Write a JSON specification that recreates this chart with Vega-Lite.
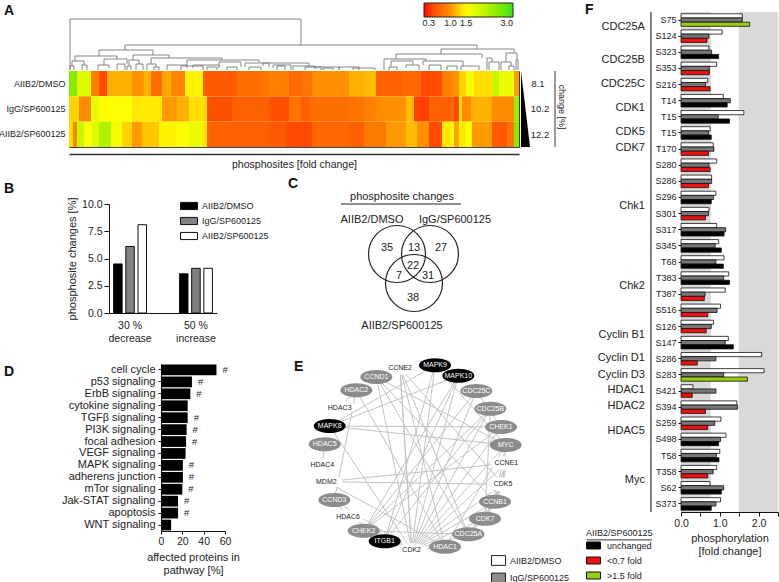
{
"$schema":"https://vega.github.io/schema/vega-lite/v6.json",
"padding":{"left":-3,"top":2,"right":0,"bottom":0},
"background":"white",
"bounds":"flush",
"spacing":612,
"config":{"view":{"stroke":null},"font":"Liberation Sans","title":{"fontSize":14,"fontWeight":"bold","anchor":"start","frame":"group","color":"#111"},"axis":{"domainColor":"#111","tickColor":"#111","labelColor":"#222","titleColor":"#222","titleFontWeight":"normal","grid":false},"legend":{"labelColor":"#222","titleColor":"#222","titleFontWeight":"normal"},"text":{"color":"#222"}},
"datasets":{
"nodes":[
{"id":"CCNE2","x":333,"y":80,"g":"AIIB2/DMSO"},{"id":"MAPK9","x":438,"y":73,"g":"AIIB2/SP600125"},{"id":"MAPK10","x":508,"y":104,"g":"AIIB2/SP600125"},{"id":"CDC25C","x":562,"y":150,"g":"IgG/SP600125"},{"id":"CDC25B","x":604,"y":203,"g":"IgG/SP600125"},{"id":"CHEK1","x":636,"y":258,"g":"IgG/SP600125"},{"id":"MYC","x":650,"y":312,"g":"IgG/SP600125"},{"id":"CCNE1","x":652,"y":367,"g":"AIIB2/DMSO"},{"id":"CDK5","x":642,"y":430,"g":"AIIB2/DMSO"},{"id":"CCNB1","x":618,"y":482,"g":"IgG/SP600125"},{"id":"CDK7","x":588,"y":533,"g":"IgG/SP600125"},{"id":"CDC25A","x":538,"y":580,"g":"IgG/SP600125"},{"id":"HDAC1","x":468,"y":617,"g":"IgG/SP600125"},{"id":"CDK2","x":368,"y":627,"g":"AIIB2/DMSO"},{"id":"ITGB1","x":287,"y":601,"g":"AIIB2/SP600125"},{"id":"CHEK2","x":224,"y":569,"g":"IgG/SP600125"},{"id":"HDAC6","x":177,"y":527,"g":"AIIB2/DMSO"},{"id":"CCND3","x":136,"y":477,"g":"IgG/SP600125"},{"id":"MDM2","x":112,"y":422,"g":"AIIB2/DMSO"},{"id":"HDAC4","x":100,"y":372,"g":"AIIB2/DMSO"},{"id":"HDAC5","x":107,"y":310,"g":"IgG/SP600125"},{"id":"MAPK8","x":122,"y":255,"g":"AIIB2/SP600125"},{"id":"HDAC3","x":152,"y":200,"g":"AIIB2/DMSO"},{"id":"HDAC2","x":202,"y":148,"g":"IgG/SP600125"},{"id":"CCND1","x":262,"y":108,"g":"IgG/SP600125"}],
"edges":[
{"s":"CDK2","t":"CCNE2"},{"s":"CDK2","t":"MAPK9"},{"s":"CDK2","t":"MAPK10"},{"s":"CDK2","t":"CDC25C"},{"s":"CDK2","t":"CDC25B"},{"s":"CDK2","t":"CHEK1"},{"s":"CDK2","t":"MYC"},{"s":"CDK2","t":"CCNE1"},{"s":"CDK2","t":"CDK5"},{"s":"CDK2","t":"CCNB1"},{"s":"CDK2","t":"CDK7"},{"s":"CDK2","t":"CDC25A"},{"s":"CDK2","t":"HDAC1"},{"s":"CDK2","t":"CCND1"},{"s":"CDK2","t":"CCND3"},{"s":"CDK2","t":"MAPK8"},{"s":"CDK2","t":"HDAC6"},{"s":"CDK2","t":"CHEK2"},
{"s":"MAPK8","t":"MYC"},{"s":"MAPK8","t":"MAPK9"},{"s":"MAPK8","t":"MAPK10"},{"s":"MAPK8","t":"CHEK1"},{"s":"MDM2","t":"CCNE1"},{"s":"MDM2","t":"CDK5"},{"s":"MDM2","t":"HDAC1"},
{"s":"HDAC2","t":"CCND3"},{"s":"HDAC2","t":"HDAC1"},{"s":"HDAC2","t":"HDAC3"},{"s":"HDAC5","t":"HDAC4"},{"s":"CCND1","t":"CDC25A"},{"s":"CCND1","t":"CCNB1"},{"s":"CCND1","t":"MYC"},
{"s":"CCNE2","t":"CDC25A"},{"s":"CCNE2","t":"HDAC1"},{"s":"CCNE2","t":"CDK5"},{"s":"CCNE2","t":"CDK2"},{"s":"MAPK9","t":"MYC"},{"s":"MAPK9","t":"ITGB1"},{"s":"MAPK10","t":"ITGB1"},{"s":"MAPK10","t":"CHEK2"},
{"s":"ITGB1","t":"CDC25B"},{"s":"CHEK2","t":"CDC25C"},{"s":"CHEK2","t":"CDC25B"},{"s":"CHEK2","t":"CDC25A"},{"s":"CHEK2","t":"CHEK1"},{"s":"HDAC6","t":"CCND3"},{"s":"MYC","t":"CCNB1"},{"s":"MYC","t":"CDK5"},{"s":"CCNE1","t":"CDK5"},{"s":"CCNE1","t":"CCNB1"},{"s":"CCNE1","t":"CDK7"},{"s":"CDK5","t":"CCNB1"},{"s":"CDK5","t":"CDK7"},{"s":"CDK5","t":"CDC25A"},{"s":"CCNB1","t":"CDK7"},{"s":"CCNB1","t":"CDC25A"},{"s":"CDK7","t":"CDC25A"},{"s":"CDC25B","t":"CDK7"},{"s":"CHEK1","t":"CDC25C"},{"s":"HDAC1","t":"MYC"}
]
},
"hconcat":[
{"bounds":"flush","spacing":352,"vconcat":[
 {"bounds":"flush","spacing":192,"vconcat":[
  {"bounds":"flush","spacing":1,"vconcat":[
   {"width":450,"height":58,
    "title":{"text":"A","dx":-65,"offset":-5.5},
    "data":{"values":[
{"a":1,"b":232,"h":51,"la":0,"lb":25},{"a":56,"b":408,"h":25,"la":20,"lb":21},{"a":30,"b":84,"h":20,"la":14,"lb":15},{"a":6,"b":48,"h":14,"la":9,"lb":11},{"a":3,"b":15,"h":9,"la":4,"lb":5},{"a":1,"b":5,"h":4,"la":0,"lb":0},{"a":13,"b":18,"h":5,"la":0,"lb":0},{"a":35,"b":58,"h":11,"la":5,"lb":6},{"a":29,"b":40,"h":5,"la":0,"lb":2},{"a":48,"b":56,"h":6,"la":0,"lb":0},
{"a":64,"b":100,"h":15,"la":10,"lb":12},{"a":60,"b":70,"h":10,"la":4,"lb":6},{"a":58,"b":62,"h":4,"la":0,"lb":0},{"a":67,"b":74,"h":6,"la":0,"lb":0},{"a":82,"b":153,"h":12,"la":6,"lb":10},{"a":78,"b":87,"h":6,"la":0,"lb":3},{"a":85,"b":90,"h":3,"la":0,"lb":0},{"a":98,"b":118,"h":5,"la":0,"lb":2},{"a":112,"b":134,"h":4,"la":0,"lb":0},{"a":118,"b":190,"h":10,"la":5,"lb":8},{"a":124,"b":150,"h":5,"la":2,"lb":2},{"a":138,"b":148,"h":3,"la":0,"lb":0},{"a":150,"b":172,"h":8,"la":3,"lb":3},{"a":158,"b":168,"h":3,"la":0,"lb":0},{"a":176,"b":200,"h":7,"la":3,"lb":3},{"a":180,"b":192,"h":3,"la":0,"lb":0},
{"a":194,"b":240,"h":7,"la":4,"lb":3},{"a":204,"b":222,"h":5,"la":2,"lb":0},{"a":208,"b":216,"h":4,"la":0,"lb":0},{"a":224,"b":246,"h":4,"la":0,"lb":2},{"a":236,"b":252,"h":3,"la":0,"lb":0},{"a":246,"b":270,"h":3,"la":1,"lb":1},{"a":254,"b":264,"h":2,"la":0,"lb":0},{"a":270,"b":290,"h":3,"la":0,"lb":0},{"a":284,"b":306,"h":2,"la":0,"lb":0},
{"a":372,"b":445,"h":21,"la":16,"lb":17},{"a":327,"b":413,"h":16,"la":11,"lb":12},{"a":315,"b":357,"h":11,"la":0,"lb":9},{"a":322,"b":344,"h":9,"la":3,"lb":5},{"a":320,"b":328,"h":3,"la":0,"lb":0},{"a":337,"b":350,"h":5,"la":2,"lb":0},{"a":354,"b":394,"h":9,"la":5,"lb":4},{"a":360,"b":372,"h":5,"la":0,"lb":0},{"a":378,"b":388,"h":4,"la":0,"lb":0},{"a":392,"b":410,"h":4,"la":0,"lb":0},
{"a":418,"b":423,"h":12,"la":0,"lb":8},{"a":420,"b":430,"h":8,"la":0,"lb":0},{"a":437,"b":448,"h":17,"la":8,"lb":10},{"a":432,"b":442,"h":8,"la":0,"lb":4},{"a":440,"b":445,"h":4,"la":0,"lb":0},{"a":447,"b":449,"h":10,"la":0,"lb":0}
]},
    "encoding":{"x":{"field":"a","type":"quantitative","scale":{"domain":[0,450],"nice":false},"axis":null},"y":{"field":"h","type":"quantitative","scale":{"domain":[0,58],"nice":false},"axis":null}},
    "layer":[
     {"mark":{"type":"rule","color":"#777","strokeWidth":0.9},"encoding":{"x2":{"field":"b"}}},
     {"mark":{"type":"rule","color":"#777","strokeWidth":0.9},"encoding":{"y2":{"field":"la"}}},
     {"mark":{"type":"rule","color":"#777","strokeWidth":0.9},"encoding":{"x":{"field":"b","type":"quantitative"},"y2":{"field":"lb"}}}
    ]},
   {"bounds":"flush","spacing":2,"hconcat":[
    {"width":450,"height":76,"view":{"stroke":"#444","strokeWidth":1},
     "data":{"values":[
{"r":"AIIB2/DMSO","s":0,"e":8,"v":2.5},{"r":"AIIB2/DMSO","s":8,"e":22,"v":1.8},{"r":"AIIB2/DMSO","s":22,"e":30,"v":0.85},{"r":"AIIB2/DMSO","s":30,"e":38,"v":0.45},{"r":"AIIB2/DMSO","s":38,"e":63,"v":1.15},{"r":"AIIB2/DMSO","s":63,"e":75,"v":1.0},{"r":"AIIB2/DMSO","s":75,"e":82,"v":1.15},{"r":"AIIB2/DMSO","s":82,"e":93,"v":0.7},{"r":"AIIB2/DMSO","s":93,"e":102,"v":1.1},{"r":"AIIB2/DMSO","s":102,"e":116,"v":0.9},{"r":"AIIB2/DMSO","s":116,"e":134,"v":1.45},{"r":"AIIB2/DMSO","s":134,"e":168,"v":0.55},{"r":"AIIB2/DMSO","s":168,"e":190,"v":0.7},{"r":"AIIB2/DMSO","s":190,"e":200,"v":0.75},{"r":"AIIB2/DMSO","s":200,"e":220,"v":0.85},{"r":"AIIB2/DMSO","s":220,"e":233,"v":0.65},{"r":"AIIB2/DMSO","s":233,"e":243,"v":0.75},{"r":"AIIB2/DMSO","s":243,"e":280,"v":1.0},{"r":"AIIB2/DMSO","s":280,"e":295,"v":1.15},{"r":"AIIB2/DMSO","s":295,"e":307,"v":1.2},{"r":"AIIB2/DMSO","s":307,"e":333,"v":0.6},{"r":"AIIB2/DMSO","s":333,"e":352,"v":0.65},{"r":"AIIB2/DMSO","s":352,"e":373,"v":0.45},{"r":"AIIB2/DMSO","s":373,"e":382,"v":0.85},{"r":"AIIB2/DMSO","s":382,"e":390,"v":1.0},{"r":"AIIB2/DMSO","s":390,"e":397,"v":1.3},{"r":"AIIB2/DMSO","s":397,"e":405,"v":1.55},{"r":"AIIB2/DMSO","s":405,"e":423,"v":1.35},{"r":"AIIB2/DMSO","s":423,"e":430,"v":2.0},{"r":"AIIB2/DMSO","s":430,"e":445,"v":1.7},{"r":"AIIB2/DMSO","s":445,"e":450,"v":1.05},
{"r":"IgG/SP600125","s":0,"e":10,"v":1.3},{"r":"IgG/SP600125","s":10,"e":22,"v":0.95},{"r":"IgG/SP600125","s":22,"e":30,"v":1.7},{"r":"IgG/SP600125","s":30,"e":63,"v":1.5},{"r":"IgG/SP600125","s":63,"e":93,"v":1.4},{"r":"IgG/SP600125","s":93,"e":108,"v":1.05},{"r":"IgG/SP600125","s":108,"e":120,"v":1.15},{"r":"IgG/SP600125","s":120,"e":138,"v":1.35},{"r":"IgG/SP600125","s":138,"e":163,"v":0.5},{"r":"IgG/SP600125","s":163,"e":200,"v":0.6},{"r":"IgG/SP600125","s":200,"e":220,"v":0.5},{"r":"IgG/SP600125","s":220,"e":232,"v":0.75},{"r":"IgG/SP600125","s":232,"e":240,"v":0.6},{"r":"IgG/SP600125","s":240,"e":280,"v":0.7},{"r":"IgG/SP600125","s":280,"e":295,"v":0.75},{"r":"IgG/SP600125","s":295,"e":307,"v":0.85},{"r":"IgG/SP600125","s":307,"e":315,"v":0.95},{"r":"IgG/SP600125","s":315,"e":337,"v":1.0},{"r":"IgG/SP600125","s":337,"e":345,"v":1.2},{"r":"IgG/SP600125","s":345,"e":360,"v":0.4},{"r":"IgG/SP600125","s":360,"e":385,"v":0.6},{"r":"IgG/SP600125","s":385,"e":390,"v":0.45},{"r":"IgG/SP600125","s":390,"e":393,"v":1.35},{"r":"IgG/SP600125","s":393,"e":402,"v":0.95},{"r":"IgG/SP600125","s":402,"e":423,"v":1.15},{"r":"IgG/SP600125","s":423,"e":445,"v":0.95},{"r":"IgG/SP600125","s":445,"e":450,"v":2.4},
{"r":"AIIB2/SP600125","s":0,"e":4,"v":1.35},{"r":"AIIB2/SP600125","s":4,"e":8,"v":0.9},{"r":"AIIB2/SP600125","s":8,"e":15,"v":2.0},{"r":"AIIB2/SP600125","s":15,"e":23,"v":1.5},{"r":"AIIB2/SP600125","s":23,"e":30,"v":1.8},{"r":"AIIB2/SP600125","s":30,"e":42,"v":2.2},{"r":"AIIB2/SP600125","s":42,"e":53,"v":1.6},{"r":"AIIB2/SP600125","s":53,"e":63,"v":1.3},{"r":"AIIB2/SP600125","s":63,"e":73,"v":1.05},{"r":"AIIB2/SP600125","s":73,"e":90,"v":1.25},{"r":"AIIB2/SP600125","s":90,"e":107,"v":1.45},{"r":"AIIB2/SP600125","s":107,"e":120,"v":1.55},{"r":"AIIB2/SP600125","s":120,"e":133,"v":1.7},{"r":"AIIB2/SP600125","s":133,"e":138,"v":1.4},{"r":"AIIB2/SP600125","s":138,"e":200,"v":0.6},{"r":"AIIB2/SP600125","s":200,"e":217,"v":0.55},{"r":"AIIB2/SP600125","s":217,"e":243,"v":0.45},{"r":"AIIB2/SP600125","s":243,"e":280,"v":0.65},{"r":"AIIB2/SP600125","s":280,"e":295,"v":0.6},{"r":"AIIB2/SP600125","s":295,"e":317,"v":0.8},{"r":"AIIB2/SP600125","s":317,"e":337,"v":1.05},{"r":"AIIB2/SP600125","s":337,"e":348,"v":1.2},{"r":"AIIB2/SP600125","s":348,"e":360,"v":1.0},{"r":"AIIB2/SP600125","s":360,"e":373,"v":0.45},{"r":"AIIB2/SP600125","s":373,"e":382,"v":1.4},{"r":"AIIB2/SP600125","s":382,"e":385,"v":1.55},{"r":"AIIB2/SP600125","s":385,"e":390,"v":1.1},{"r":"AIIB2/SP600125","s":390,"e":397,"v":1.4},{"r":"AIIB2/SP600125","s":397,"e":403,"v":1.5},{"r":"AIIB2/SP600125","s":403,"e":423,"v":1.05},{"r":"AIIB2/SP600125","s":423,"e":438,"v":0.55},{"r":"AIIB2/SP600125","s":438,"e":445,"v":0.75},{"r":"AIIB2/SP600125","s":445,"e":450,"v":2.5}
]},
     "mark":{"type":"rect"},
     "encoding":{
      "x":{"field":"s","type":"quantitative","scale":{"domain":[0,450],"nice":false},"axis":{"title":"phosphosites  [fold change]","titleFontSize":10.5,"titlePadding":5,"labels":false,"ticks":false,"offset":7,"domainWidth":1.5,"domainColor":"#333"}},
      "x2":{"field":"e"},
      "y":{"field":"r","type":"nominal","sort":["AIIB2/DMSO","IgG/SP600125","AIIB2/SP600125"],"title":null,"axis":{"domain":false,"ticks":false,"labelFontSize":9,"labelPadding":4,"labelLimit":200}},
      "color":{"field":"v","type":"quantitative","scale":{"domain":[0.15,0.3,1,1.5,3],"range":["#ff0000","#ff2a00","#ff9000","#ffff00","#30e020"]},
       "legend":{"title":null,"orient":"none","legendX":355,"legendY":-9,"direction":"horizontal","gradientLength":89,"gradientThickness":14,"gradientStrokeColor":"#222","gradientStrokeWidth":1,"values":[0.3,1,1.5,3],"format":".1f","labelFontSize":9,"tickCount":4}}
     }},
    {"width":50,"height":76,
     "layer":[
      {"data":{"values":[{"pos":0,"w":0},{"pos":76,"w":9}]},"mark":{"type":"area","orient":"horizontal","color":"black"},"encoding":{"x":{"field":"w","type":"quantitative","scale":{"domain":[0,50],"nice":false},"axis":null},"y":{"field":"pos","type":"quantitative","scale":{"domain":[0,76],"reverse":true,"nice":false},"axis":null}}},
      {"data":{"values":[{"t":"8.1","p":13,"c":17},{"t":"10.2","p":38,"c":19},{"t":"12.2","p":64,"c":19}]},"mark":{"type":"text","fontSize":9.5},"encoding":{"text":{"field":"t"},"x":{"field":"c","type":"quantitative"},"y":{"field":"p","type":"quantitative"}}},
      {"data":{"values":[{"c":34,"a":0,"b":76}]},"mark":{"type":"rule","color":"#333","strokeWidth":1},"encoding":{"x":{"field":"c","type":"quantitative"},"y":{"field":"a","type":"quantitative"},"y2":{"field":"b"}}},
      {"data":{"values":[{"t":"change [%]","c":41,"p":36}]},"mark":{"type":"text","angle":90,"fontSize":9},"encoding":{"text":{"field":"t"},"x":{"field":"c","type":"quantitative"},"y":{"field":"p","type":"quantitative"}}}
     ]}
   ]}
  ]},
  {"bounds":"flush","spacing":39,"hconcat":[
   {"width":1,"height":1,"data":{"values":[]},"mark":"text"},
   {"bounds":"flush","spacing":120,"hconcat":[
    {"width":108,"height":109,
     "title":{"text":"B","dx":-105,"offset":1.5},
     "data":{"values":[
      {"g":"30 %|decrease","s":"AIIB2/DMSO","v":4.5},{"g":"30 %|decrease","s":"IgG/SP600125","v":6.1},{"g":"30 %|decrease","s":"AIIB2/SP600125","v":8.1},
      {"g":"50 %|increase","s":"AIIB2/DMSO","v":3.6},{"g":"50 %|increase","s":"IgG/SP600125","v":4.1},{"g":"50 %|increase","s":"AIIB2/SP600125","v":4.1}]},
     "mark":{"type":"bar","stroke":"#111","strokeWidth":1},
     "encoding":{
      "x":{"field":"g","type":"nominal","title":null,"scale":{"paddingInner":0.5,"paddingOuter":0.07},"axis":{"labelAngle":0,"ticks":false,"labelFontSize":10.5,"labelPadding":7,"labelExpr":"split(datum.label,'|')","labelLineHeight":13}},
      "xOffset":{"field":"s","sort":["AIIB2/DMSO","IgG/SP600125","AIIB2/SP600125"],"scale":{"paddingInner":0.3,"paddingOuter":0}},
      "y":{"field":"v","type":"quantitative","scale":{"domain":[0,10],"nice":false},"title":"phosphosite changes [%]","axis":{"values":[0,2.5,5,7.5,10],"format":".1f","labelFontSize":10.5,"titleFontSize":11,"titlePadding":4}},
      "color":{"field":"s","type":"nominal","sort":["AIIB2/DMSO","IgG/SP600125","AIIB2/SP600125"],"scale":{"domain":["AIIB2/DMSO","IgG/SP600125","AIIB2/SP600125"],"range":["#000000","#808080","#ffffff"]},
       "legend":{"title":null,"orient":"none","legendX":111,"legendY":-7,"symbolType":"M-1,-0.42H1V0.42H-1Z","symbolSize":289,"symbolStrokeColor":"#111","symbolStrokeWidth":1,"labelFontSize":9,"rowPadding":-3,"labelOffset":4}}
     }},
    {"width":130,"height":130,
     "title":{"text":"C","dx":-49,"offset":0.5},
     "encoding":{"x":{"field":"x","type":"quantitative","scale":{"domain":[0,130],"nice":false},"axis":null},"y":{"field":"y","type":"quantitative","scale":{"domain":[0,130],"reverse":true,"nice":false},"axis":null}},
     "layer":[
      {"data":{"values":[{"x":60,"y":50},{"x":93,"y":50},{"x":77,"y":79}]},"mark":{"type":"point","shape":"circle","size":3249,"stroke":"#222","strokeWidth":1.2,"opacity":1,"fill":null}},
      {"data":{"values":[{"x":4,"x2":124,"y":0}]},"mark":{"type":"rule","color":"#222","strokeWidth":1},"encoding":{"x2":{"field":"x2"}}},
      {"data":{"values":[{"x":65,"y":-7,"t":"phosphosite changes"},{"x":35,"y":16,"t":"AIIB2/DMSO"},{"x":118,"y":16,"t":"IgG/SP600125"},{"x":65,"y":122,"t":"AIIB2/SP600125"},{"x":50,"y":44,"t":"35"},{"x":77,"y":44,"t":"13"},{"x":104,"y":44,"t":"27"},{"x":76,"y":62,"t":"22"},{"x":62,"y":72,"t":"7"},{"x":91,"y":72,"t":"31"},{"x":76,"y":94,"t":"38"}]},"mark":{"type":"text","fontSize":11},"encoding":{"text":{"field":"t"}}}
     ]}
   ]}
  ]}
 ]},
 {"bounds":"flush","spacing":91,"hconcat":[
  {"width":1,"height":1,"data":{"values":[]},"mark":"text"},
  {"bounds":"flush","spacing":84,"hconcat":[
   {"width":64,"height":167,
    "title":{"text":"D","dx":-157,"offset":-15.5},
    "data":{"values":[
     {"p":"cell cycle","v":52,"h":"#"},{"p":"p53 signaling","v":29,"h":"#"},{"p":"ErbB signaling","v":27.5,"h":"#"},{"p":"cytokine signaling","v":25,"h":""},{"p":"TGFβ signaling","v":25,"h":"#"},{"p":"PI3K signaling","v":24,"h":"#"},{"p":"focal adhesion","v":23.5,"h":"#"},{"p":"VEGF signaling","v":23,"h":""},{"p":"MAPK signaling","v":20.5,"h":"#"},{"p":"adherens junction","v":20.5,"h":"#"},{"p":"mTor signaling","v":20,"h":"#"},{"p":"Jak-STAT signaling","v":16,"h":"#"},{"p":"apoptosis","v":16,"h":"#"},{"p":"WNT signaling","v":9.5,"h":""}]},
    "encoding":{
     "y":{"field":"p","type":"nominal","sort":null,"title":null,"scale":{"paddingInner":0.1,"paddingOuter":0.05},"axis":{"labelFontSize":11,"labelLimit":200,"tickSize":3,"labelPadding":3}},
     "x":{"field":"v","type":"quantitative","scale":{"domain":[0,60],"nice":false},"title":["affected proteins in","pathway [%]"],"axis":{"values":[0,20,40,60],"labelFontSize":10.5,"titleFontSize":11,"titlePadding":5,"labelFlush":false,"tickSize":3}}
    },
    "layer":[
     {"mark":{"type":"bar","color":"black"}},
     {"mark":{"type":"text","align":"left","dx":6,"fontSize":9.5},"encoding":{"text":{"field":"h"}}}
    ]},
   {"width":215,"height":194,
    "title":{"text":"E","dx":-15,"offset":-15.5},
    "encoding":{"x":{"field":"x","type":"quantitative","scale":{"domain":[60,705],"nice":false},"axis":null},"y":{"field":"y","type":"quantitative","scale":{"domain":[69,651],"reverse":true,"nice":false},"axis":null}},
    "layer":[
     {"data":{"name":"edges"},
      "transform":[{"lookup":"s","from":{"data":{"name":"nodes"},"key":"id","fields":["x","y"]}},{"lookup":"t","from":{"data":{"name":"nodes"},"key":"id","fields":["x","y"]},"as":["tx","ty"]}],
      "mark":{"type":"rule","color":"#c4c4c4","strokeWidth":1},
      "encoding":{"x2":{"field":"tx"},"y2":{"field":"ty"}}},
     {"data":{"name":"nodes"},
      "mark":{"type":"point","shape":"M-1,0A1,0.44 0 1 1 1,0A1,0.44 0 1 1 -1,0Z","size":1024,"filled":true,"opacity":1},
      "encoding":{"color":{"field":"g","type":"nominal","scale":{"domain":["AIIB2/DMSO","IgG/SP600125","AIIB2/SP600125"],"range":["#ffffff","#8c8c8c","#000000"]},
       "legend":{"title":null,"orient":"none","legendX":422,"legendY":541,"values":["AIIB2/DMSO","IgG/SP600125"],"symbolType":"M-1,-0.7H1V0.7H-1Z","symbolSize":196,"symbolStrokeColor":"#222","symbolStrokeWidth":1,"labelFontSize":9,"rowPadding":2.5,"labelOffset":4}}}},
     {"data":{"name":"nodes"},"mark":{"type":"text","fontSize":7},
      "encoding":{"text":{"field":"id"},"color":{"condition":{"test":"datum.g==='AIIB2/DMSO'","value":"#222"},"value":"#ffffff"}}}
    ]}
  ]}
 ]}
]},
{"width":97,"height":500,
 "title":{"text":"F","dx":-96,"offset":-5.5},
 "resolve":{"scale":{"y":"independent","color":"independent"},"axis":{"x":"independent"}},
 "layer":[
  {"data":{"values":[{"a":0,"b":0.77},{"a":1.49,"b":2.5}]},"mark":{"type":"rect","color":"#d9d9d9"},
   "encoding":{"x":{"field":"a","type":"quantitative","scale":{"domain":[0,2.5],"nice":false},"title":["phosphorylation","[fold change]"],"axis":{"values":[0,0.5,1,1.5,2,2.5],"labelExpr":"datum.value%1===0?format(datum.value,'.1f'):''","labelFontSize":10.5,"titleFontSize":11,"titlePadding":4,"tickSize":4,"labelFlush":false}},"x2":{"field":"b"}}},
  {"data":{"values":[
{"k":"CDC25A|S75","s":"a","c":"DMSO","v":1.58},{"k":"CDC25A|S75","s":"b","c":"IgG","v":1.58},{"k":"CDC25A|S75","s":"c","c":">1.5 fold","v":1.77},
{"k":"CDC25A|S124","s":"a","c":"DMSO","v":1.06},{"k":"CDC25A|S124","s":"b","c":"IgG","v":0.72},{"k":"CDC25A|S124","s":"c","c":"<0.7 fold","v":0.67},
{"k":"CDC25B|S323","s":"a","c":"DMSO","v":0.72},{"k":"CDC25B|S323","s":"b","c":"IgG","v":0.79},{"k":"CDC25B|S323","s":"c","c":"unchanged","v":0.97},
{"k":"CDC25B|S353","s":"a","c":"DMSO","v":0.92},{"k":"CDC25B|S353","s":"b","c":"IgG","v":0.73},{"k":"CDC25B|S353","s":"c","c":"<0.7 fold","v":0.73},
{"k":"CDC25C|S216","s":"a","c":"DMSO","v":0.69},{"k":"CDC25C|S216","s":"b","c":"IgG","v":0.63},{"k":"CDC25C|S216","s":"c","c":"<0.7 fold","v":0.75},
{"k":"CDK1|T14","s":"a","c":"DMSO","v":1.09},{"k":"CDK1|T14","s":"b","c":"IgG","v":1.27},{"k":"CDK1|T14","s":"c","c":"unchanged","v":1.19},
{"k":"CDK1|T15","s":"a","c":"DMSO","v":1.62},{"k":"CDK1|T15","s":"b","c":"IgG","v":0.96},{"k":"CDK1|T15","s":"c","c":"unchanged","v":1.25},
{"k":"CDK5|T15","s":"a","c":"DMSO","v":0.75},{"k":"CDK5|T15","s":"b","c":"IgG","v":0.71},{"k":"CDK5|T15","s":"c","c":"unchanged","v":0.78},
{"k":"CDK7|T170","s":"a","c":"DMSO","v":0.83},{"k":"CDK7|T170","s":"b","c":"IgG","v":0.85},{"k":"CDK7|T170","s":"c","c":"<0.7 fold","v":0.71},
{"k":"Chk1|S280","s":"a","c":"DMSO","v":0.92},{"k":"Chk1|S280","s":"b","c":"IgG","v":0.72},{"k":"Chk1|S280","s":"c","c":"<0.7 fold","v":0.75},
{"k":"Chk1|S286","s":"a","c":"DMSO","v":0.79},{"k":"Chk1|S286","s":"b","c":"IgG","v":0.79},{"k":"Chk1|S286","s":"c","c":"<0.7 fold","v":0.71},
{"k":"Chk1|S296","s":"a","c":"DMSO","v":0.9},{"k":"Chk1|S296","s":"b","c":"IgG","v":0.84},{"k":"Chk1|S296","s":"c","c":"unchanged","v":0.78},
{"k":"Chk1|S301","s":"a","c":"DMSO","v":0.72},{"k":"Chk1|S301","s":"b","c":"IgG","v":0.71},{"k":"Chk1|S301","s":"c","c":"<0.7 fold","v":0.63},
{"k":"Chk1|S317","s":"a","c":"DMSO","v":0.92},{"k":"Chk1|S317","s":"b","c":"IgG","v":1.15},{"k":"Chk1|S317","s":"c","c":"unchanged","v":1.11},
{"k":"Chk1|S345","s":"a","c":"DMSO","v":0.97},{"k":"Chk1|S345","s":"b","c":"IgG","v":0.88},{"k":"Chk1|S345","s":"c","c":"unchanged","v":1.04},
{"k":"Chk2|T68","s":"a","c":"DMSO","v":1.11},{"k":"Chk2|T68","s":"b","c":"IgG","v":0.9},{"k":"Chk2|T68","s":"c","c":"unchanged","v":1.09},
{"k":"Chk2|T383","s":"a","c":"DMSO","v":1.23},{"k":"Chk2|T383","s":"b","c":"IgG","v":1.1},{"k":"Chk2|T383","s":"c","c":"unchanged","v":1.25},
{"k":"Chk2|T387","s":"a","c":"DMSO","v":1.14},{"k":"Chk2|T387","s":"b","c":"IgG","v":0.62},{"k":"Chk2|T387","s":"c","c":"<0.7 fold","v":0.6},
{"k":"Chk2|S516","s":"a","c":"DMSO","v":1.02},{"k":"Chk2|S516","s":"b","c":"IgG","v":0.93},{"k":"Chk2|S516","s":"c","c":"<0.7 fold","v":0.69},
{"k":"CyclinB1|S126","s":"a","c":"DMSO","v":0.84},{"k":"CyclinB1|S126","s":"b","c":"IgG","v":0.78},{"k":"CyclinB1|S126","s":"c","c":"<0.7 fold","v":0.65},
{"k":"CyclinB1|S147","s":"a","c":"DMSO","v":1.22},{"k":"CyclinB1|S147","s":"b","c":"IgG","v":1.14},{"k":"CyclinB1|S147","s":"c","c":"unchanged","v":1.35},
{"k":"CyclinD1|S286","s":"a","c":"DMSO","v":2.08},{"k":"CyclinD1|S286","s":"b","c":"IgG","v":0.9},{"k":"CyclinD1|S286","s":"c","c":"<0.7 fold","v":0.42},
{"k":"CyclinD3|S283","s":"a","c":"DMSO","v":2.14},{"k":"CyclinD3|S283","s":"b","c":"IgG","v":1.1},{"k":"CyclinD3|S283","s":"c","c":">1.5 fold","v":1.71},
{"k":"HDAC1|S421","s":"a","c":"DMSO","v":0.31},{"k":"HDAC1|S421","s":"b","c":"IgG","v":0.9},{"k":"HDAC1|S421","s":"c","c":"<0.7 fold","v":0.29},
{"k":"HDAC2|S394","s":"a","c":"DMSO","v":1.44},{"k":"HDAC2|S394","s":"b","c":"IgG","v":1.46},{"k":"HDAC2|S394","s":"c","c":"<0.7 fold","v":0.63},
{"k":"HDAC5|S259","s":"a","c":"DMSO","v":1.03},{"k":"HDAC5|S259","s":"b","c":"IgG","v":0.87},{"k":"HDAC5|S259","s":"c","c":"<0.7 fold","v":0.69},
{"k":"HDAC5|S498","s":"a","c":"DMSO","v":1.16},{"k":"HDAC5|S498","s":"b","c":"IgG","v":1.02},{"k":"HDAC5|S498","s":"c","c":"unchanged","v":0.97},
{"k":"Myc|T58","s":"a","c":"DMSO","v":1.0},{"k":"Myc|T58","s":"b","c":"IgG","v":0.91},{"k":"Myc|T58","s":"c","c":"unchanged","v":0.98},
{"k":"Myc|T358","s":"a","c":"DMSO","v":0.92},{"k":"Myc|T358","s":"b","c":"IgG","v":0.83},{"k":"Myc|T358","s":"c","c":"<0.7 fold","v":0.69},
{"k":"Myc|S62","s":"a","c":"DMSO","v":0.75},{"k":"Myc|S62","s":"b","c":"IgG","v":1.1},{"k":"Myc|S62","s":"c","c":"unchanged","v":1.04},
{"k":"Myc|S373","s":"a","c":"DMSO","v":1.02},{"k":"Myc|S373","s":"b","c":"IgG","v":0.9},{"k":"Myc|S373","s":"c","c":"unchanged","v":0.78}
]},
   "mark":{"type":"bar","stroke":"#111","strokeWidth":0.8},
   "encoding":{
    "x":{"field":"v","type":"quantitative","axis":null,"scale":{"domain":[0,2.5],"nice":false}},
    "y":{"field":"k","type":"nominal","sort":null,"title":null,"scale":{"paddingInner":0.22,"paddingOuter":0.11},"axis":{"labelExpr":"split(datum.label,'|')[1]","labelFontSize":9,"tickSize":3,"labelPadding":2,"domainWidth":1}},
    "yOffset":{"field":"s"},
    "color":{"field":"c","type":"nominal","scale":{"domain":["unchanged","<0.7 fold",">1.5 fold","DMSO","IgG"],"range":["#000000","#ee1111","#99cc11","#ffffff","#777777"]},
     "legend":{"title":"AIIB2/SP600125","titleFontSize":9,"titlePadding":0,"orient":"none","legendX":-95,"legendY":517,"values":["unchanged","<0.7 fold",">1.5 fold"],"symbolType":"M-1,-0.5H1V0.5H-1Z","symbolSize":196,"symbolStrokeColor":"#111","symbolStrokeWidth":1,"labelFontSize":9,"rowPadding":2,"labelOffset":6}}
   }},
  {"data":{"values":[
{"g":"CDC25A","a":0,"b":2,"m":0.9},{"g":"CDC25B","a":2,"b":4,"m":2.95},{"g":"CDC25C","a":4,"b":5,"m":4.45},{"g":"CDK1","a":5,"b":7,"m":5.95},{"g":"CDK5","a":7,"b":8,"m":7.45},{"g":"CDK7","a":8,"b":9,"m":8.45},{"g":"Chk1","a":9,"b":15,"m":12},{"g":"Chk2","a":15,"b":19,"m":17},{"g":"Cyclin B1","a":19,"b":21,"m":20},{"g":"Cyclin D1","a":21,"b":22,"m":21.45},{"g":"Cyclin D3","a":22,"b":23,"m":22.5},{"g":"HDAC1","a":23,"b":24,"m":23.45},{"g":"HDAC2","a":24,"b":25,"m":24.45},{"g":"HDAC5","a":25,"b":27,"m":25.95},{"g":"Myc","a":27,"b":31,"m":29}]},
   "layer":[
    {"mark":{"type":"rule","color":"#333","strokeWidth":1.2},"encoding":{"x":{"datum":-0.775,"type":"quantitative","axis":null},"y":{"field":"a","type":"quantitative","scale":{"domain":[0,31],"reverse":true,"nice":false},"axis":null},"y2":{"field":"b"}}},
    {"mark":{"type":"text","align":"right","fontSize":11},"encoding":{"x":{"datum":-0.93,"type":"quantitative","axis":null},"y":{"field":"m","type":"quantitative","scale":{"domain":[0,31],"reverse":true,"nice":false},"axis":null},"text":{"field":"g"}}},
    {"data":{"values":[{"a":-2.43,"b":-0.75,"p":32.73}]},"mark":{"type":"rule","color":"#333","strokeWidth":1},"encoding":{"x":{"field":"a","type":"quantitative","axis":null},"x2":{"field":"b"},"y":{"field":"p","type":"quantitative","scale":{"domain":[0,31],"reverse":true,"nice":false},"axis":null}}}
   ]}
 ]}
]
}
